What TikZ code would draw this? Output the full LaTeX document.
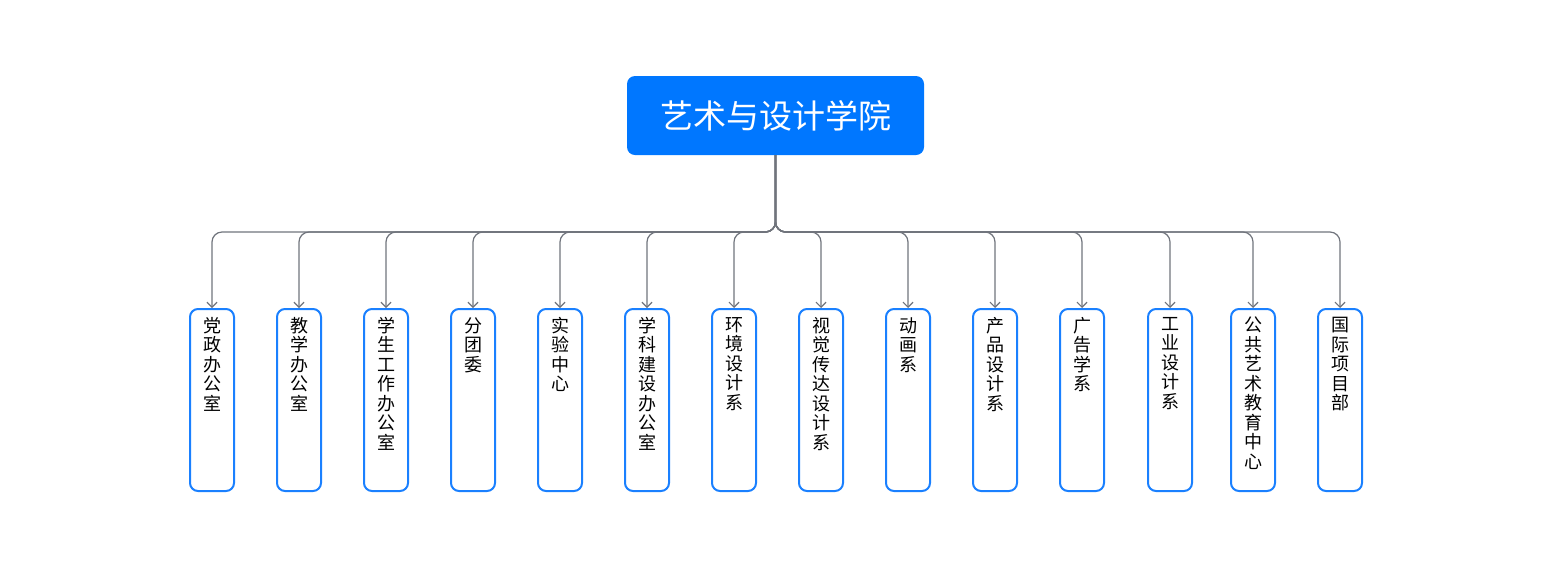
\documentclass[tikz,border=0pt]{standalone}
\usepackage{fontspec}
\setmainfont{Noto Sans CJK SC}
\usetikzlibrary{arrows.meta}
\definecolor{rootblue}{HTML}{0077FF}
\definecolor{boxblue}{HTML}{1A80FF}
\definecolor{linegray}{HTML}{70747C}
\tikzset{
  rootbox/.style={draw=none,fill=rootblue,rounded corners=8pt,minimum width=297pt,minimum height=79pt,inner sep=0pt,text=white,font=\fontsize{33}{36}\selectfont},
  childbox/.style={draw=boxblue,line width=2pt,fill=white,rounded corners=8pt,minimum width=44pt,minimum height=182pt,inner sep=0pt,anchor=north},
  childtext/.style={anchor=north,align=center,inner sep=0pt,font=\fontsize{18}{19.5}\selectfont,text=black},
  conn/.style={draw=linegray,line width=1.2pt,rounded corners=10pt,-{Straight Barb[length=5pt,width=10pt]}}
}
\begin{document}
\begin{tikzpicture}[x=1pt,y=-1pt]
\useasboundingbox (0,0) rectangle (1552,566);
\node[rootbox] (root) at (775.5,115.5) {艺术与设计学院};
\foreach \n/\x/\t in {
  1/212/{党\\政\\办\\公\\室},
  2/299/{教\\学\\办\\公\\室},
  3/386/{学\\生\\工\\作\\办\\公\\室},
  4/473/{分\\团\\委},
  5/560/{实\\验\\中\\心},
  6/647/{学\\科\\建\\设\\办\\公\\室},
  7/734/{环\\境\\设\\计\\系},
  8/821/{视\\觉\\传\\达\\设\\计\\系},
  9/908/{动\\画\\系},
  10/995/{产\\品\\设\\计\\系},
  11/1082/{广\\告\\学\\系},
  12/1170/{工\\业\\设\\计\\系},
  13/1253/{公\\共\\艺\\术\\教\\育\\中\\心},
  14/1340/{国\\际\\项\\目\\部}} {
  \node[childbox] (c\n) at (\x,308) {};
  \node[childtext] (t\n) at ([yshift=-9pt]c\n.north) {\t};
  \draw[conn] (root.south) |- ([yshift=76pt]c\n.north) -- (c\n.north);
}
\end{tikzpicture}
\end{document}
